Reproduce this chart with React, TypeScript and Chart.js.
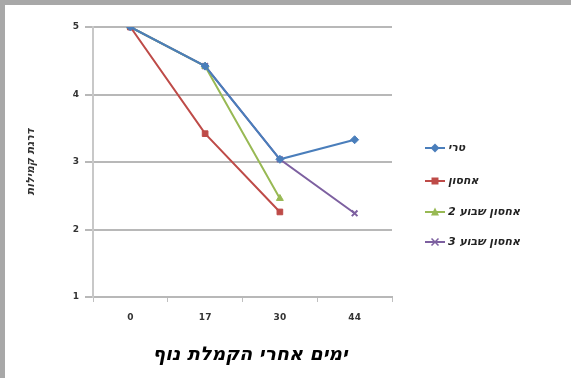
import React, { useEffect, useRef } from "react";
import { Chart, registerables } from "chart.js";
Chart.register(...registerables);

const categories = ["0", "17", "30", "44"];
const seriesNames = ["טרי", "אחסון", "אחסון שבוע 2", "אחסון שבוע 3"];
const series1 = [5, 4.42, 3.04, 3.33];
const series2 = [5, 3.42, 2.26, null];
const series3 = [5, 4.42, 2.46, null];
const series4 = [5, 4.42, 3.04, 2.24];
const yTicks = [1, 2, 3, 4, 5];
const xTitle = "ימים אחרי הקמלת נוף";
const yTitle = "דרגת קמילות";

const colors = ["#4a7ebb", "#be4b48", "#98b954", "#7d60a0"];
const markers = ["rectRot", "rect", "triangle", "crossRot"];

export default function App() {
  const ref = useRef<HTMLCanvasElement>(null);
  useEffect(() => {
    const data = [series1, series2, series3, series4];
    const legendPlugin = {
      id: "customLegend",
      afterDraw(chart: any) {
        const ctx = chart.ctx;
        const ys = [143, 176, 207, 237];
        ctx.save();
        data.forEach((_, i) => {
          const y = ys[i];
          ctx.strokeStyle = colors[i];
          ctx.lineWidth = 2;
          ctx.beginPath();
          ctx.moveTo(420, y);
          ctx.lineTo(440, y);
          ctx.stroke();
          ctx.fillStyle = colors[i];
          ctx.strokeStyle = colors[i];
          const s = 3.5;
          const cx = 430;
          ctx.beginPath();
          if (markers[i] === "rectRot") {
            ctx.moveTo(cx, y - s - 1);
            ctx.lineTo(cx + s + 1, y);
            ctx.lineTo(cx, y + s + 1);
            ctx.lineTo(cx - s - 1, y);
            ctx.closePath();
            ctx.fill();
          } else if (markers[i] === "rect") {
            ctx.rect(cx - s, y - s, 2 * s, 2 * s);
            ctx.fill();
          } else if (markers[i] === "triangle") {
            ctx.moveTo(cx, y - s - 1);
            ctx.lineTo(cx + s + 0.5, y + s);
            ctx.lineTo(cx - s - 0.5, y + s);
            ctx.closePath();
            ctx.fill();
          } else {
            ctx.lineWidth = 1.5;
            ctx.moveTo(cx - s, y - s);
            ctx.lineTo(cx + s, y + s);
            ctx.moveTo(cx + s, y - s);
            ctx.lineTo(cx - s, y + s);
            ctx.stroke();
          }
          ctx.direction = "rtl";
          ctx.fillStyle = "#222";
          ctx.font = "italic bold 11px 'DejaVu Sans'";
          ctx.textAlign = "left";
          ctx.textBaseline = "middle";
          ctx.fillText(seriesNames[i], 443, y);
        });
        ctx.direction = "rtl";
        ctx.font = "italic bold 19px 'DejaVu Sans'";
        ctx.fillStyle = "#000";
        ctx.textAlign = "center";
        ctx.textBaseline = "middle";
        ctx.fillText(xTitle, 245, 350);
        const area = chart.chartArea;
        ctx.translate(26, (area.top + area.bottom) / 2);
        ctx.rotate(-Math.PI / 2);
        ctx.font = "italic bold 11px 'DejaVu Sans'";
        ctx.fillStyle = "#333";
        ctx.fillText(yTitle, 0, 0);
        ctx.restore();
      },
    };
    const chart = new Chart(ref.current as HTMLCanvasElement, {
      type: "line",
      data: {
        labels: categories,
        datasets: data.map((d, i) => ({
          label: seriesNames[i],
          data: d,
          borderColor: colors[i],
          backgroundColor: colors[i],
          borderWidth: 2,
          pointStyle: markers[i] as any,
          pointRadius: 4,
          pointBorderWidth: i === 3 ? 2 : 1,
          spanGaps: false,
          tension: 0,
        })),
      },
      options: {
        animation: false,
        responsive: false,
        layout: { padding: { left: 0, right: 179, top: 22, bottom: 0 } },
        plugins: { legend: { display: false }, tooltip: { enabled: false } },
        scales: {
          x: {
            offset: true,
            afterFit: (s: any) => {
              s.height = 81;
            },
            grid: {
              display: true,
              drawOnChartArea: false,
              offset: true,
              tickLength: 5,
              color: "#c0c0c0",
              lineWidth: 1,
            },
            border: { color: "#b8b8b8", width: 2 },
            ticks: {
              color: "#333",
              font: { size: 9, weight: "bold", family: "DejaVu Sans" },
              padding: 10,
            },
          },
          y: {
            min: 1,
            max: 5,
            afterFit: (s: any) => {
              s.width = 88;
            },
            afterBuildTicks: (s: any) => {
              s.ticks = yTicks.map((v) => ({ value: v }));
            },
            grid: { color: "#b8b8b8", lineWidth: 2, tickLength: 8 },
            border: { color: "#c8c8c8", width: 2 },
            ticks: {
              color: "#333",
              font: { size: 9, weight: "bold", family: "DejaVu Sans" },
              padding: 6,
            },
          },
        },
      },
      plugins: [legendPlugin],
    });
    return () => chart.destroy();
  }, []);
  return (
    <div
      style={{
        position: "fixed",
        left: 0,
        top: 0,
        width: 571,
        height: 378,
        background: "#a8a8a8",
      }}
    >
      <div style={{ position: "absolute", left: 5, top: 5, width: 566, height: 373, background: "#fff" }}>
        <canvas ref={ref} width={566} height={373} style={{ display: "block" }} />
      </div>
    </div>
  );
}
